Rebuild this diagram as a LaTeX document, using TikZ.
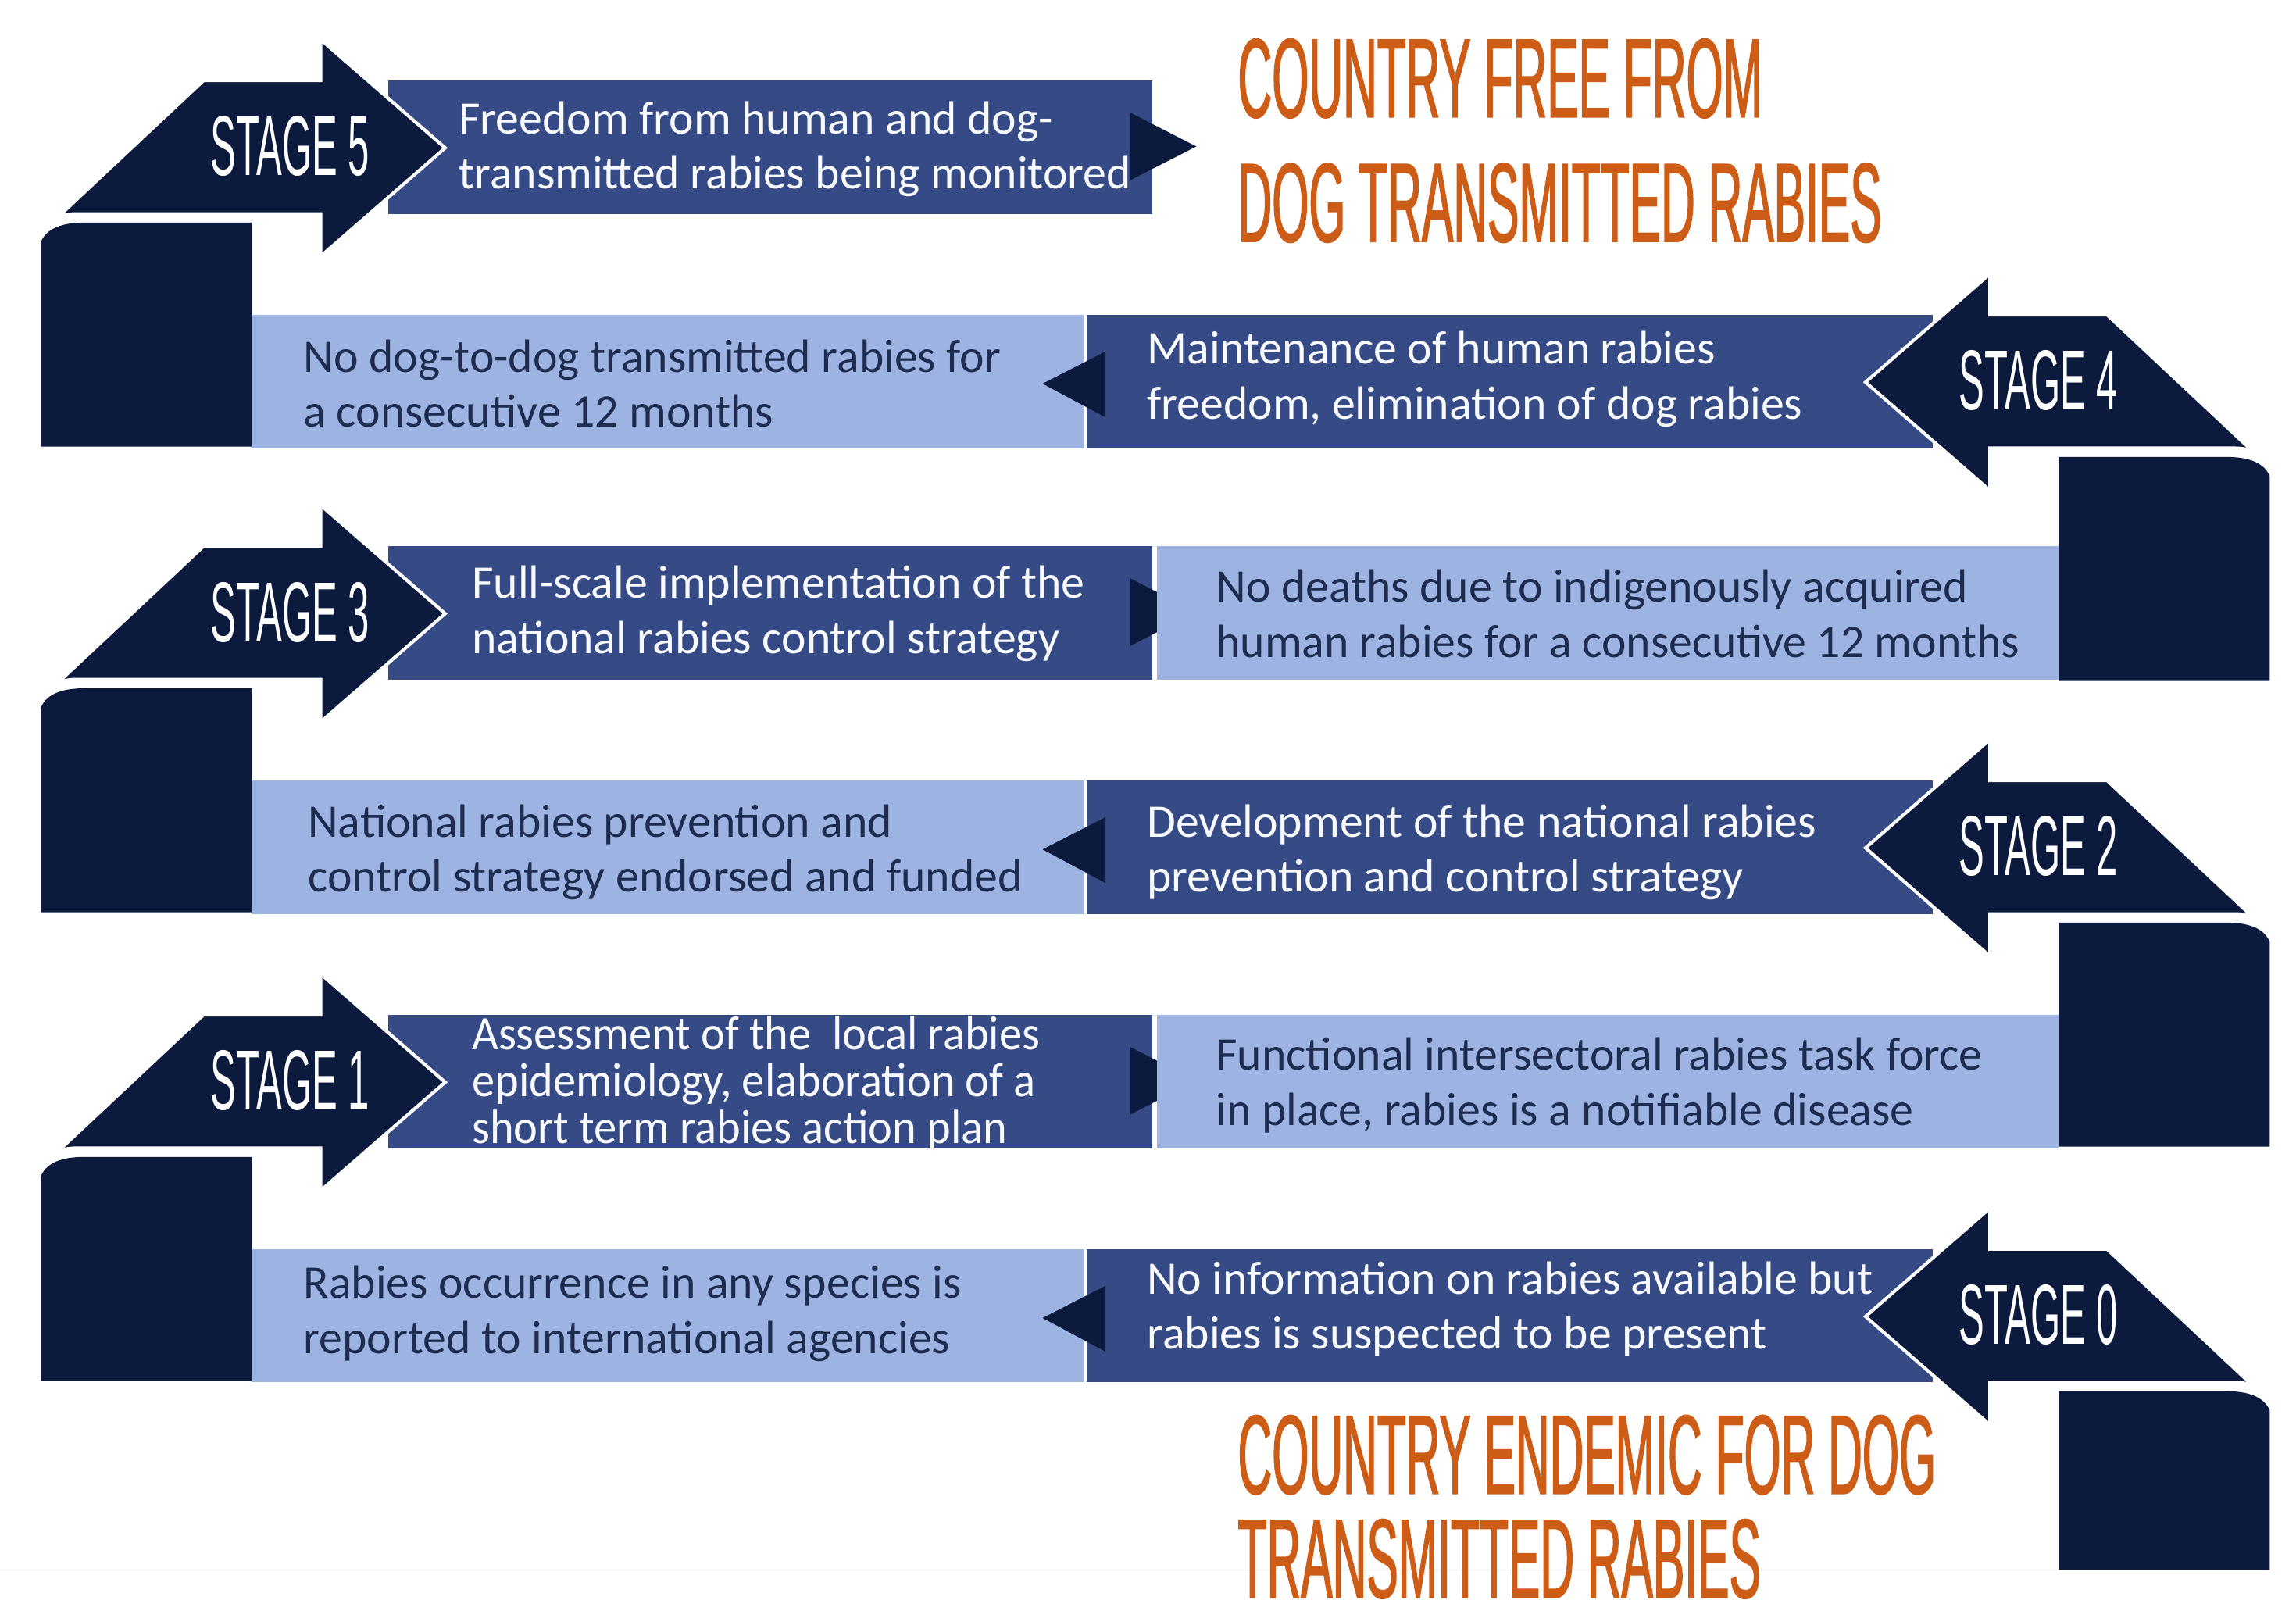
\documentclass[tikz,border=0pt]{standalone}
\usepackage{fontspec}
\setmainfont{Carlito}
\newfontfamily\stagefont[FakeStretch=0.45]{Liberation Sans}
\newfontfamily\goalfont[FakeStretch=0.42, FakeBold=1]{Liberation Sans}
\newfontfamily\narrowfont[FakeStretch=0.95]{Carlito}
\definecolor{navy}{RGB}{12,27,61}
\definecolor{midblue}{RGB}{54,74,134}
\definecolor{paleblue}{RGB}{157,180,227}
\definecolor{inkblue}{RGB}{30,44,80}
\definecolor{rust}{RGB}{204,92,22}

\begin{document}
\begin{tikzpicture}[
    x=0.01874cm, y=-0.01874cm,
    stagelabel/.style={font={\stagefont\fontsize{31}{31}\selectfont}, text=white, inner sep=0pt},
    midtext/.style={anchor=west, align=left, inner sep=0pt, text=white!93!paleblue,
      font={\fontsize{17}{20}\selectfont}},
    paletext/.style={midtext, text=inkblue},
    goal/.style={anchor=base west, inner sep=0pt, text=rust,
      font={\goalfont\fontsize{41}{41}\selectfont}},
  ]
  \useasboundingbox[fill=white] (0,0) rectangle (1568,1100);
  \draw[black!8] (0,1072) -- (1406,1072);

  % rows running to the right: stages 5, 3, 1
  \foreach \y/\n in {55/5,373/3,693/1} {
    \fill[midblue] (265,\y) rectangle (787,\y+91);
    \fill[navy] (772,\y+22) -- (817,\y+45) -- (772,\y+68) -- cycle;
    \fill[navy] (172,\y+97) -- (58,\y+97) .. controls (42,\y+97) and (32,\y+101) .. (28,\y+110)
      -- (28,\y+250) -- (172,\y+250) -- cycle;
    \filldraw[fill=navy, draw=white, line width=1.2pt]
      (28,\y+104) -- (139,\y) -- (219,\y) -- (219,\y-28) -- (304,\y+46) -- (219,\y+120)
      -- (219,\y+91) -- (52,\y+91) .. controls (40,\y+91) and (32,\y+96) .. (28,\y+104) -- cycle;
    \node[stagelabel] (stage\n) at (198,\y+45) {STAGE \n};
  }
  \foreach \y in {373,693}
    \fill[paleblue] (790,\y) rectangle (1406,\y+91);

  % rows running to the left: stages 4, 2, 0
  \foreach \y/\n/\b in {215/4/465,533/2/783,853/0/1072} {
    \fill[paleblue] (172,\y) rectangle (740,\y+91);
    \fill[midblue] (742,\y) rectangle (1320,\y+91);
    \fill[navy] (755,\y+25) -- (712,\y+47) -- (755,\y+70) -- cycle;
    \fill[navy] (1406,\y+97) -- (1520,\y+97) .. controls (1536,\y+97) and (1546,\y+101) .. (1550,\y+110)
      -- (1550,\b) -- (1406,\b) -- cycle;
    \filldraw[fill=navy, draw=white, line width=1.2pt]
      (1550,\y+104) -- (1439,\y) -- (1359,\y) -- (1359,\y-28) -- (1274,\y+46) -- (1359,\y+120)
      -- (1359,\y+91) -- (1526,\y+91) .. controls (1538,\y+91) and (1546,\y+96) .. (1550,\y+104) -- cycle;
    \node[stagelabel] (stage\n) at (1392,\y+45) {STAGE \n};
  }

  \node[midtext] (step5) at (313,102) {Freedom from human and dog-\\transmitted rabies being monitored};
  \node[paletext] (check4) at (207,262) {No dog-to-dog transmitted rabies for\\a consecutive 12 months};
  \node[midtext] (step4) at (783,259) {Maintenance of human rabies\\freedom, elimination of dog rabies};
  \node[midtext] (step3) at (322,419) {Full-scale implementation of the\\national rabies control strategy};
  \node[paletext] (check3) at (830,419) {No deaths due to indigenously acquired\\human rabies for a consecutive 12 months};
  \node[paletext] (check2) at (210,582) {National rabies prevention and\\control strategy endorsed and funded};
  \node[midtext] (step2) at (783,582) {Development of the national rabies\\prevention and control strategy};
  \node[midtext, font={\narrowfont\fontsize{17.5}{17}\selectfont}] (step1) at (322,740)
    {Assessment of the\ \ local rabies\\epidemiology, elaboration of a\\short term rabies action plan};
  \node[paletext] (check1) at (830,741) {Functional intersectoral rabies task force\\in place, rabies is a notifiable disease};
  \node[paletext] (check0) at (207,897) {Rabies occurrence in any species is\\reported to international agencies};
  \node[midtext] (step0) at (783,894) {No information on rabies available but\\rabies is suspected to be present};

  \node[goal] (free1) at (845,80) {COUNTRY FREE FROM};
  \node[goal] (free2) at (845,165) {DOG TRANSMITTED RABIES};
  \node[goal] (endemic1) at (845,1020) {COUNTRY ENDEMIC FOR DOG};
  \node[goal] (endemic2) at (845,1091) {TRANSMITTED RABIES};
\end{tikzpicture}
\end{document}
